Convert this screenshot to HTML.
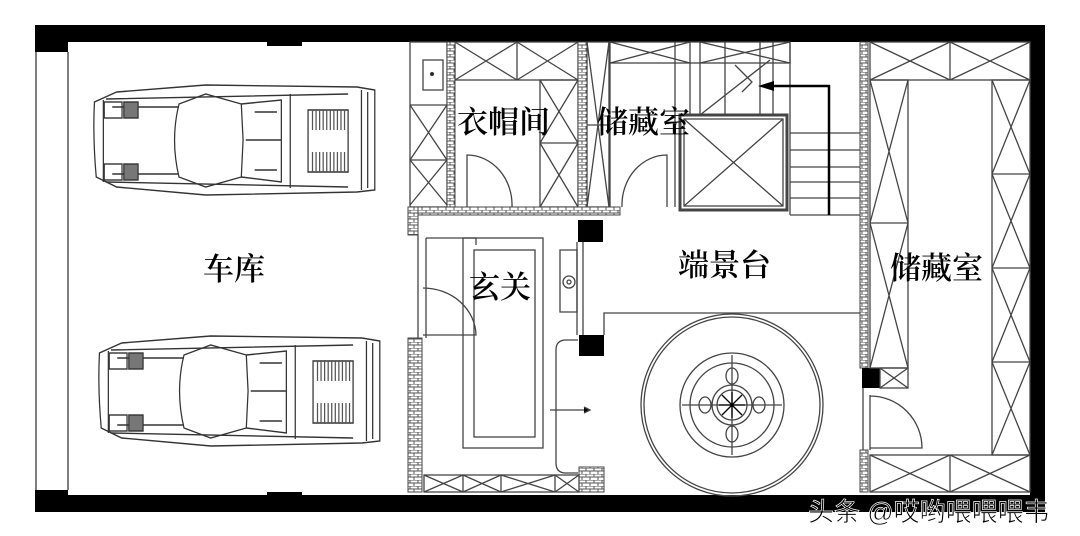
<!DOCTYPE html>
<html><head><meta charset="utf-8"><style>
html,body{margin:0;padding:0;background:#fff;}
svg{display:block}
.t{font-family:"Liberation Serif","Noto Serif CJK SC",serif;font-size:31px;fill:#000;font-weight:600}
</style></head><body>
<svg width="1080" height="536" viewBox="0 0 1080 536" xmlns="http://www.w3.org/2000/svg">
<defs>
<pattern id="brick" width="8" height="6" patternUnits="userSpaceOnUse">
<rect width="8" height="6" fill="#fff"/><path d="M0 0H8M0 3H8M2 0V3M6 3V6" stroke="#555" stroke-width="1"/>
</pattern>
<g id="car" fill="none" stroke="#333" stroke-width="1.4">
<path d="M5 20 Q3 55 7 95 L30 105 L130 113 L300 110 L320 108 L320 8 L300 5 L130 3 L30 10 Z"/>
<path d="M18 17 L290 12 M18 100 L290 105"/>
<path d="M15 18 L15 100 M25 25 L100 25 M25 92 L100 92"/>
<rect x="16" y="20" width="20" height="16"/><rect x="38" y="20" width="16" height="16" fill="#777"/>
<rect x="16" y="82" width="20" height="16"/><rect x="38" y="82" width="16" height="16" fill="#777"/>
<path d="M100 22 Q90 58 100 95 L130 105 L170 95 L172 58 L170 22 L130 12 Z"/>
<path d="M170 22 L215 18 L215 100 L170 95 M185 30 L210 30 M185 88 L210 88 M175 58 L215 58"/>
<path d="M225 12 L225 106 M245 28 L245 90 L290 90 L290 28 Z"/>
<g stroke="#555"><path d="M250 28V48M254 28V48M258 28V48M262 28V48M266 28V48M270 28V48M274 28V48M278 28V48M282 28V48M286 28V48"/>
<path d="M250 70V90M254 70V90M258 70V90M262 70V90M266 70V90M270 70V90M274 70V90M278 70V90M282 70V90M286 70V90"/></g>
<path d="M305 8 L305 108 M312 10 L312 106"/>
</g>
</defs>
<rect width="1080" height="536" fill="#fff"/>
<rect x="35" y="25" width="1010" height="17" fill="#000"/>
<rect x="35" y="25" width="33" height="27" fill="#000"/>
<rect x="267" y="40" width="35" height="6" fill="#000"/>
<rect x="35" y="495" width="1010" height="17" fill="#000"/>
<rect x="35" y="490" width="33" height="22" fill="#000"/>
<rect x="267" y="492" width="35" height="5" fill="#000"/>
<rect x="1030" y="25" width="15" height="487" fill="#000"/>
<line x1="36" y1="52" x2="36" y2="490" stroke="#555" stroke-width="1.5"/>
<line x1="68" y1="52" x2="68" y2="490" stroke="#555" stroke-width="1.5"/>
<use href="#car" transform="translate(90,82) scale(0.89,1)"/>
<use href="#car" transform="translate(95,333) scale(0.89,1)"/>
<text class="t" x="203" y="280">车库</text>

<g fill="none" stroke="#444" stroke-width="1.3">
<rect x="410" y="42" width="37" height="165"/>
<rect x="423" y="60" width="20" height="30"/><circle cx="432" cy="74" r="1.5" fill="#000"/>
<path d="M410 105H447M410 160H447M410 105L447 160M447 105L410 160M410 160L447 205M447 160L410 205"/>
<rect x="455" y="42" width="123" height="38"/>
<path d="M517 42V80M455 42L517 80M517 42L455 80M517 42L578 80M578 42L517 80"/>
<rect x="540" y="80" width="38" height="127"/>
<path d="M540 143H578M540 80L578 143M578 80L540 143M540 143L578 207M578 143L540 207"/>
<path d="M467 207V155 A45 50 0 0 1 512 207"/>
<rect x="587" y="42" width="22" height="165"/><path d="M587 42L609 207M609 42L587 207M587 125H609"/>
<rect x="610" y="42" width="180" height="21"/>
<path d="M610 42L690 63M690 42L610 63M700 42L790 63M790 42L700 63"/>
<path d="M610 63V207M667 207V155 A45 50 0 0 0 622 207"/>
<path d="M675 42V207M690 42V115M700 42V115M725 42V115M760 42V115M773 42V115M790 42V215"/>
<rect x="680" y="115" width="107" height="95" stroke-width="3"/>
<rect x="684" y="119" width="99" height="87"/>
<path d="M684 119L783 206M783 119L684 206"/>
<path d="M745 75 L735 65 L752 82 L742 92 M700 115 L770 60"/>
<path d="M790 133H860M790 150H860M790 167H860M790 182H860M790 198H860M790 215H860"/>
</g>
<polyline points="829,215 829,86 770,86" fill="none" stroke="#000" stroke-width="2.5"/>
<polygon points="758,86 774,81 774,91" fill="#000"/>
<text class="t" x="457" y="133">衣帽间</text>
<text class="t" x="597" y="133">储藏室</text>

<rect x="447" y="42" width="8" height="165" fill="url(#brick)" stroke="#444"/>
<rect x="578" y="42" width="9" height="165" fill="url(#brick)" stroke="#444"/>
<rect x="408" y="207" width="212" height="8" fill="url(#brick)" stroke="#444"/>
<rect x="408" y="207" width="10" height="28" fill="url(#brick)" stroke="#444"/>
<rect x="408" y="338" width="14" height="154" fill="url(#brick)" stroke="#444"/>
<rect x="860" y="42" width="8" height="326" fill="url(#brick)" stroke="#444"/>
<rect x="860" y="450" width="8" height="42" fill="url(#brick)" stroke="#444"/>
<rect x="579" y="467" width="25" height="25" fill="url(#brick)" stroke="#444"/>
<rect x="578" y="220" width="25" height="22" fill="#000"/>
<rect x="579" y="335" width="25" height="21" fill="#000"/>
<rect x="862" y="368" width="18" height="20" fill="#000"/>

<g fill="none" stroke="#444" stroke-width="1.3">
<path d="M418 235V338M426 238V338"/>
<path d="M426 238H476V245"/>
<rect x="463" y="238" width="80" height="210"/>
<rect x="474" y="250" width="61" height="187"/>
<path d="M423 335H476 A53 48 0 0 0 423 288"/>
<path d="M560 250H577V312H560Z"/><circle cx="569" cy="282" r="6"/><circle cx="569" cy="282" r="2"/>
<path d="M577 242V335M583 242V335"/>
<path d="M578 340H566 Q556 340 556 350V463 Q556 473 566 473H578"/>
<path d="M550 410H588"/><path d="M584 407L590 410L584 413" fill="#000"/>
<rect x="424" y="475" width="155" height="17"/>
<path d="M463 475V492M501 475V492M555 475V492M424 475L463 492M463 475L424 492M463 475L501 492M501 475L463 492M501 475L555 492M555 475L501 492M555 475L579 492M579 475L555 492"/>
<path d="M604 335V313H860"/>
<circle cx="732" cy="405" r="91"/>
<circle cx="732" cy="405" r="88"/>
<circle cx="732" cy="405" r="52"/>
<circle cx="732" cy="405" r="42"/>
<circle cx="732" cy="405" r="20"/>
<circle cx="732" cy="405" r="15"/>
<path d="M682 405H782M732 355V455"/>
<ellipse cx="705" cy="405" rx="6" ry="8"/><ellipse cx="759" cy="405" rx="6" ry="8"/>
<ellipse cx="732" cy="376" rx="6" ry="8"/><ellipse cx="732" cy="434" rx="6" ry="8"/>
<path d="M722 395L742 415M742 395L722 415M732 392V418M719 405H745M725 398L739 412" stroke="#000"/>
<rect x="870" y="42" width="160" height="38"/>
<path d="M950 42V80M870 42L950 80M950 42L870 80M950 42L1030 80M1030 42L950 80"/>
<rect x="870" y="80" width="38" height="288"/>
<path d="M870 223H908M870 80L908 223M908 80L870 223M870 223L908 368M908 223L870 368"/>
<rect x="880" y="368" width="28" height="20"/><path d="M880 368L908 388M908 368L880 388"/>
<rect x="992" y="80" width="38" height="375"/>
<path d="M992 174H1030M992 268H1030M992 362H1030M992 80L1030 174M1030 80L992 174M992 174L1030 268M1030 174L992 268M992 268L1030 362M1030 268L992 362M992 362L1030 455M1030 362L992 455"/>
<rect x="870" y="455" width="160" height="37"/>
<path d="M950 455V492M870 455L950 492M950 455L870 492M950 455L1030 492M1030 455L950 492"/>
<path d="M863 388V450M870 395V450M870 448H922 A52 52 0 0 0 870 396"/>
</g>
<text class="t" x="678" y="276">端景台</text>
<text class="t" x="890" y="279">储藏室</text>
<text class="t" x="469" y="298">玄关</text>

<text x="808" y="521" font-family="'Liberation Sans','Noto Sans CJK SC',sans-serif" font-size="26" fill="#000" stroke="#fff" stroke-width="0.7">头条 @哎哟喂喂喂韦</text>
</svg>
</body></html>
